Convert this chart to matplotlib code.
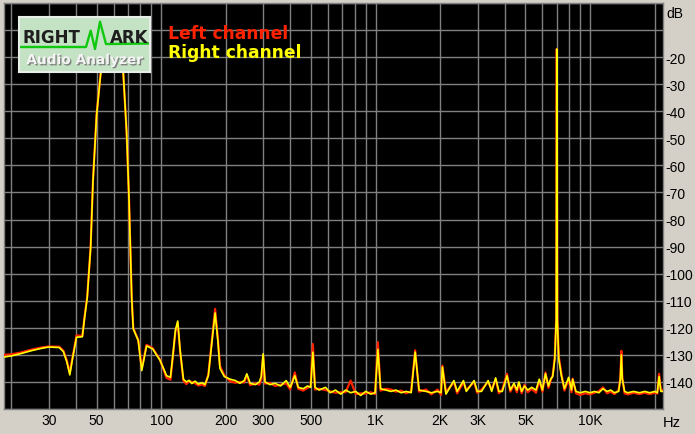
import matplotlib
matplotlib.use("Agg")
import matplotlib.pyplot as plt
import matplotlib.patheffects as pe

W, H = 695, 435

FREQ_HZ = [
    18.5, 20, 22, 25, 28, 30, 33.5, 35, 36.3, 37.5,
    38.7, 40.3, 42.9, 44, 45.2, 46.9, 48.1, 50, 52.4, 55.3,
    60, 64, 66.5, 69, 70.8, 72.9, 74.1, 78.2, 81.2, 85.5,
    91.3, 98.8, 106, 110.5, 113.5, 116.5, 119.5, 122.5, 127, 131,
    135, 139, 144, 149, 155, 160, 166, 171, 178.5, 184,
    188, 197, 210, 222, 233, 244, 251, 260, 275, 287,
    293, 299, 305, 322, 340, 360, 383, 400, 420, 436,
    460, 482, 498, 510, 522, 545, 584, 615, 650, 688,
    725, 765, 808, 852, 900, 950, 995, 1025, 1055, 1115,
    1180, 1245, 1315, 1390, 1465, 1530, 1595, 1720, 1820, 1945,
    2020, 2050, 2130, 2320, 2400, 2570, 2650, 2880, 2980, 3120,
    3350, 3480, 3630, 3760, 3900, 4100, 4250, 4420, 4560, 4660,
    4800, 4950, 5120, 5350, 5600, 5800, 6000, 6200, 6400, 6550,
    6700, 6850, 6960, 7000, 7040, 7150, 7350, 7600, 7950, 8200,
    8300, 8600, 9000, 9500, 10000, 10500, 11000, 11500, 12000, 12500,
    13000, 13600, 13850, 14000, 14150, 14500, 15000, 16000, 17000, 18000,
    19000, 20000, 20600, 21000, 21400, 21950,
]

RIGHT_DB = [
    -130.8, -130.4, -129.6, -128.4, -127.5, -127.1, -127.3, -128.8, -132.5, -137.4,
    -131.0, -123.5, -123.3, -116.0, -109.0, -90.5, -66.0, -41.5, -25.0, -8.0,
    -6.0, -8.0, -25.0, -47.5, -72.0, -109.0, -120.4, -124.7, -135.8, -126.7,
    -127.8, -132.0, -137.7, -138.3, -130.0, -121.0, -117.5, -128.0, -139.0, -140.0,
    -139.4, -140.6, -139.7, -140.8, -140.3, -141.0, -137.7, -128.0, -114.5, -125.0,
    -135.0, -138.0, -139.0, -139.5, -140.5, -139.5, -137.0, -140.5, -141.0, -140.0,
    -138.0, -129.6, -140.0, -141.0, -140.5, -141.5, -139.5, -142.0, -137.7, -142.0,
    -142.5, -141.5, -142.0, -129.0, -142.0, -143.0, -142.0, -144.0, -143.0, -144.5,
    -143.0, -144.0, -143.5, -145.0, -143.5, -144.5, -144.0, -128.0, -142.5, -143.0,
    -143.5, -143.0, -144.0, -143.5, -144.0, -129.0, -143.0, -143.5, -144.0, -143.5,
    -144.0, -134.5, -144.5, -139.5, -143.5, -139.5, -143.5, -139.5, -143.5, -143.5,
    -139.5, -143.5, -138.5, -143.5, -143.5, -137.7, -143.0, -140.5, -143.0, -140.0,
    -143.5, -141.5, -143.0, -142.0, -143.0, -139.0, -143.0, -137.0, -141.5, -139.0,
    -138.0, -131.5, -117.0, -17.0, -117.0, -131.5, -137.7, -142.5, -138.3, -143.0,
    -139.0, -143.5, -144.0, -143.5, -144.0, -143.5, -144.0, -142.5, -143.5, -143.0,
    -144.0, -143.5, -139.0, -130.0, -139.0, -143.5, -144.0, -143.5, -144.0, -143.5,
    -144.0, -143.5, -144.0, -138.0, -143.5, -143.5,
]

LEFT_DB = [
    -130.0, -129.8, -129.2, -128.0, -127.2, -126.9, -127.0, -128.5, -132.0, -136.5,
    -130.5, -122.8, -123.0, -115.5, -108.5, -90.0, -65.5, -41.0, -24.8, -8.0,
    -6.0, -8.0, -25.0, -47.5, -72.0, -108.5, -120.0, -124.5, -135.0, -126.3,
    -127.5, -131.8, -138.5, -139.2, -130.5, -121.5, -118.2, -128.5, -139.5, -140.8,
    -139.8, -140.0, -140.5, -141.3, -141.0, -141.5, -137.2, -127.5, -113.0, -124.0,
    -134.0, -137.5, -139.8, -140.3, -140.0, -140.2, -137.5, -141.2, -140.5, -141.0,
    -139.0, -130.2, -140.6, -140.4, -141.5, -141.0, -140.5, -142.8, -136.5, -142.5,
    -143.2, -142.2, -141.5, -126.0, -142.8, -142.5, -143.0, -143.5, -144.0, -143.8,
    -143.8, -139.5, -144.5, -144.2, -144.3, -143.8, -144.5, -125.3, -143.2, -142.5,
    -142.8, -143.6, -143.2, -144.2, -143.4, -128.3, -143.6, -142.8, -144.6, -142.8,
    -144.8, -134.0, -143.8, -140.0, -144.2, -140.2, -143.0, -140.0, -144.0, -142.8,
    -140.0, -142.8, -139.0, -144.2, -142.8, -137.0, -143.6, -141.0, -143.8, -140.5,
    -144.2, -141.0, -143.8, -142.6, -144.0, -139.5, -143.6, -136.5, -142.2, -139.6,
    -137.5, -131.0, -116.0, -17.0, -116.0, -130.5, -136.8, -143.2, -139.0, -143.8,
    -138.8, -144.2, -144.8, -144.2, -144.6, -144.0, -143.4, -142.0, -144.2, -143.6,
    -144.5, -143.0, -138.5, -128.5, -138.5, -144.2, -144.6, -144.0, -144.5, -144.0,
    -144.5, -144.0, -144.3, -137.0, -143.0, -143.0,
]

X_GRID = [20, 30, 40, 50, 60, 70, 80, 90,
          100, 200, 300, 400, 500, 600, 700, 800, 900,
          1000, 2000, 3000, 4000, 5000, 6000, 7000, 8000, 9000,
          10000, 20000]
X_LABELS = {30: "30", 50: "50", 100: "100", 200: "200", 300: "300",
            500: "500", 1000: "1K", 2000: "2K", 3000: "3K", 5000: "5K",
            10000: "10K"}
Y_GRID = list(range(-150, 1, 10))
Y_LABELED = list(range(-140, -19, 10))

LEGEND = ["Left channel", "Right channel"]
COLORS = ["#FF2200", "#FFFF00"]

BG = "#D4D0C8"
GRID = "#808080"

plt.rcParams['font.family'] = ['Liberation Sans', 'DejaVu Sans']

fig = plt.figure(figsize=(W / 100, H / 100), dpi=100, facecolor=BG)

def px_rect(x0, y0, x1, y1):
    return [x0 / W, 1 - y1 / H, (x1 - x0) / W, (y1 - y0) / H]

ax = fig.add_axes(px_rect(4, 4, 663, 410))
ax.set_facecolor("black")
ax.set_xscale("log")
ax.set_xlim(18.5, 21900)
ax.set_ylim(-150, 0)

ax.set_xticks(X_GRID)
ax.set_xticklabels([X_LABELS.get(v, "") for v in X_GRID])
ax.xaxis.set_minor_locator(matplotlib.ticker.NullLocator())
ax.set_yticks(Y_GRID)
ax.set_yticklabels(["%d" % v if v in Y_LABELED else "" for v in Y_GRID])
ax.yaxis.tick_right()
ax.tick_params(axis="both", length=0, labelsize=10, colors="black")
ax.tick_params(axis="y", pad=1.5)
ax.tick_params(axis="x", pad=3)
ax.grid(True, color=GRID, linewidth=1.0)
ax.set_axisbelow(True)
for s in ax.spines.values():
    s.set_color(GRID)
    s.set_linewidth(1.0)

ax.plot(FREQ_HZ, LEFT_DB, color=COLORS[0], lw=1.6, zorder=3)
ax.plot(FREQ_HZ, RIGHT_DB, color=COLORS[1], lw=1.2, zorder=4)

fig.text(666 / W, 1 - 14 / H, "dB", fontsize=10, va="center", ha="left")
fig.text(663 / W, 1 - 423 / H, "Hz", fontsize=10.5, va="center", ha="left")

# legend text
fig.text(168 / W, 1 - 39 / H, LEGEND[0], color=COLORS[0], fontsize=12.3,
         fontweight="bold", family="DejaVu Sans", va="baseline", zorder=10)
fig.text(168 / W, 1 - 58 / H, LEGEND[1], color=COLORS[1], fontsize=12.3,
         fontweight="bold", family="DejaVu Sans", va="baseline", zorder=10)

# logo
lg = fig.add_axes(px_rect(19, 18, 150, 73), zorder=5)
lg.set_facecolor("#C4E2C4")
lg.set_xlim(0, 131)
lg.set_ylim(55, 0)
lg.set_xticks([])
lg.set_yticks([])
for s in lg.spines.values():
    s.set_color("#E8EEE8")
    s.set_linewidth(1.5)
lg.text(3, 25, "RIGHT", fontsize=12, fontweight="bold", family="DejaVu Sans",
        color="#1E1E1E", va="baseline", ha="left")
lg.text(129, 25, "ARK", fontsize=12, fontweight="bold", family="DejaVu Sans",
        color="#1E1E1E", va="baseline", ha="right")
lg.plot([2, 67, 71.7, 76, 81, 87, 91, 129],
        [30, 30, 13.7, 32, 4.7, 27, 27, 26.5], color="#10C810", lw=1.7)
lg.text(65.5, 43, "Audio Analyzer", fontsize=9.9, fontweight="bold",
        family="DejaVu Sans", color="#F4F4F4", va="center", ha="center",
        path_effects=[pe.withSimplePatchShadow(offset=(1, -1), shadow_rgbFace="#7A7A7A", alpha=0.9)])

fig.savefig("out.png", dpi=100, facecolor=BG)
